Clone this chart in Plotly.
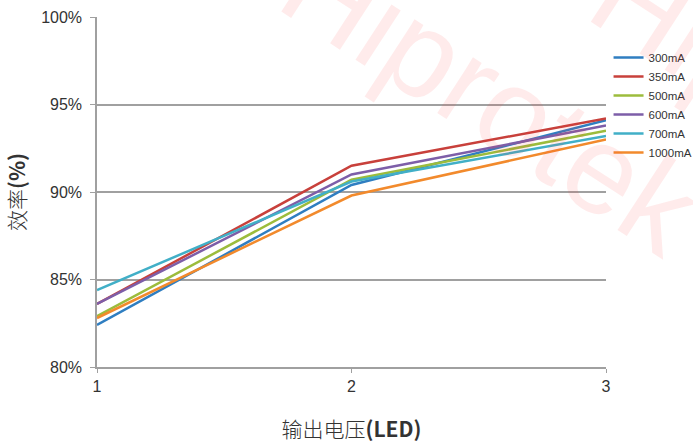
import plotly.graph_objects as go

x_vals = [1, 2, 3]
series_names = ["300mA", "350mA", "500mA", "600mA", "700mA", "1000mA"]
eff_300 = [82.4, 90.4, 94.1]
eff_350 = [83.6, 91.5, 94.2]
eff_500 = [82.9, 90.7, 93.5]
eff_600 = [83.6, 91.0, 93.8]
eff_700 = [84.4, 90.6, 93.2]
eff_1000 = [82.8, 89.8, 93.0]
y_ticks = [80, 85, 90, 95, 100]

colors = ["#2f7ec1", "#c8403b", "#9cbc3c", "#7d5ea8", "#41afc7", "#f28a2c"]
series = [eff_300, eff_350, eff_500, eff_600, eff_700, eff_1000]

fig = go.Figure()
for name, vals, c in zip(series_names, series, colors):
    fig.add_trace(go.Scatter(x=x_vals, y=vals, mode="lines", name=name,
                             line=dict(color=c, width=2.5)))

font_family = "Liberation Sans Narrow, Liberation Sans, Arial, sans-serif"
cjk = "Noto Sans CJK SC, sans-serif"
fig.update_layout(
    width=693, height=443,
    margin=dict(l=97, r=87, t=17, b=76, autoexpand=False),
    plot_bgcolor="white", paper_bgcolor="white",
    showlegend=True,
    legend=dict(x=1.005, y=0.926, xanchor="left", yanchor="top",
                font=dict(family="Liberation Sans, Arial, sans-serif", size=11.5, color="#333"),
                itemwidth=30, tracegroupgap=0, bgcolor="rgba(0,0,0,0)"),
    xaxis=dict(range=[1, 3], tickvals=x_vals, ticktext=[str(v) for v in x_vals],
               automargin=False,
               showgrid=False, zeroline=False, showline=True, linecolor="#a0a0a0", linewidth=1.5,
               ticks="outside", ticklen=4, tickcolor="#a0a0a0",
               tickfont=dict(family=font_family, size=16, color="#333"),
               title=dict(text="输出电压<b>(LED)</b>", standoff=28,
                          font=dict(family=cjk, size=21, color="#333", weight=300))),
    yaxis=dict(range=[80, 100], tickvals=y_ticks, ticktext=[f"{v}%" for v in y_ticks],
               automargin=False, ticklabelstandoff=5,
               showgrid=True, gridcolor="#a0a0a0", gridwidth=1.5, zeroline=False,
               showline=True, linecolor="#a0a0a0", linewidth=1.5,
               ticks="outside", ticklen=5, tickcolor="#a0a0a0",
               tickfont=dict(family=font_family, size=16, color="#333"),
               title=dict(text="效率<b>(%)</b>", standoff=10,
                          font=dict(family=cjk, size=21, color="#333", weight=300))),
)

wm_font = dict(family="Liberation Sans, Arial, sans-serif", size=125,
               color="rgba(255,60,60,0.10)")
for wx, wy in [(0.776, 0.774), (1.383, 0.743)]:
    fig.add_annotation(text="Hiprotek", xref="paper", yref="paper", x=wx, y=wy,
                       xanchor="center", yanchor="middle",
                       showarrow=False, textangle=33, font=wm_font)

fig.write_html("out.html", config={"displayModeBar": False},
               post_script="document.body.style.margin='0';")
